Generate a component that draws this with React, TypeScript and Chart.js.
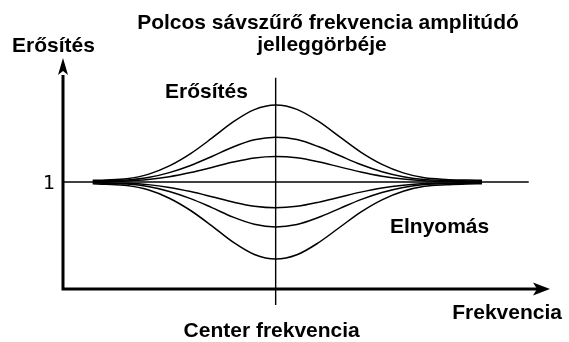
import { useEffect, useRef } from "react";
import { Chart, registerables } from "chart.js";

Chart.register(...registerables);

// Frequency axis (arbitrary units), center frequency of the band filter at 10
const freq = [1.4, 2, 3, 4, 5, 6, 7, 8, 9, 10, 11, 12, 13, 14, 15, 16, 17, 18, 19, 19.7];

// Gain curves (1 = unity gain)
const boostHigh = [1.016, 1.02, 1.032, 1.072, 1.151, 1.266, 1.41, 1.562, 1.677, 1.72, 1.68, 1.569, 1.425, 1.281, 1.166, 1.086, 1.04, 1.025, 1.019, 1.016];
const boostMid = [1.009, 1.012, 1.019, 1.042, 1.088, 1.155, 1.239, 1.328, 1.395, 1.42, 1.397, 1.332, 1.248, 1.164, 1.097, 1.05, 1.023, 1.015, 1.011, 1.009];
const boostLow = [1.005, 1.007, 1.011, 1.024, 1.05, 1.089, 1.137, 1.187, 1.226, 1.24, 1.227, 1.19, 1.142, 1.094, 1.055, 1.029, 1.013, 1.008, 1.006, 1.005];
const cutLow = [0.995, 0.993, 0.989, 0.976, 0.95, 0.911, 0.863, 0.813, 0.774, 0.76, 0.773, 0.81, 0.858, 0.906, 0.945, 0.971, 0.987, 0.992, 0.994, 0.995];
const cutMid = [0.991, 0.988, 0.981, 0.958, 0.912, 0.845, 0.761, 0.672, 0.605, 0.58, 0.603, 0.668, 0.752, 0.836, 0.903, 0.95, 0.977, 0.985, 0.989, 0.991];
const cutHigh = [0.984, 0.98, 0.968, 0.928, 0.849, 0.734, 0.59, 0.438, 0.323, 0.28, 0.32, 0.431, 0.575, 0.719, 0.834, 0.914, 0.96, 0.975, 0.981, 0.984];

const curves = [boostHigh, boostMid, boostLow, cutLow, cutMid, cutHigh];

const centerFreq = 10;
const unityGain = 1;
const xMax = 22.9;
const yMax = 2.16;

const titleLines = ["Polcos sávszűrő frekvencia amplitúdó", "jelleggörbéje"];
const yAxisLabel = "Erősítés";
const xAxisLabel = "Frekvencia";
const centerLabel = "Center frekvencia";
const boostLabel = "Erősítés";
const cutLabel = "Elnyomás";
const unityLabel = "1";

const BOLD = "bold 21px 'Liberation Sans', Arial, sans-serif";

const decorations = {
  id: "decorations",
  afterDatasetsDraw(chart: any) {
    const { ctx } = chart;
    const x = chart.scales.x;
    const y = chart.scales.y;
    ctx.save();
    ctx.fillStyle = "#000";

    // arrowhead on the gain axis
    const ax = x.getPixelForValue(0);
    const ay = y.getPixelForValue(yMax);
    ctx.beginPath();
    ctx.moveTo(ax, ay);
    ctx.lineTo(ax + 5, ay + 17);
    ctx.lineTo(ax, ay + 13);
    ctx.lineTo(ax - 5, ay + 17);
    ctx.closePath();
    ctx.fill();

    // arrowhead on the frequency axis
    const bx = x.getPixelForValue(xMax);
    const by = y.getPixelForValue(0);
    ctx.beginPath();
    ctx.moveTo(bx, by);
    ctx.lineTo(bx - 17, by - 6.5);
    ctx.lineTo(bx - 13, by);
    ctx.lineTo(bx - 17, by + 6.5);
    ctx.closePath();
    ctx.fill();

    // texts
    ctx.font = BOLD;
    ctx.textBaseline = "alphabetic";
    ctx.textAlign = "center";
    ctx.fillText(titleLines[0], 328, 29);
    ctx.fillText(titleLines[1], 322, 51);

    ctx.textAlign = "left";
    ctx.fillText(yAxisLabel, 12, 52);
    ctx.fillText(boostLabel, 165, 98);
    ctx.fillText(cutLabel, 390, 233);

    ctx.textAlign = "right";
    ctx.fillText(xAxisLabel, 562, 319);

    ctx.textAlign = "center";
    ctx.fillText(centerLabel, x.getPixelForValue(centerFreq) - 4, 337);

    ctx.font = "19px 'DejaVu Sans', sans-serif";
    ctx.textAlign = "right";
    ctx.fillText(unityLabel, 55, y.getPixelForValue(unityGain) + 7);
    ctx.restore();
  },
};

export default function App() {
  const canvasRef = useRef<HTMLCanvasElement | null>(null);

  useEffect(() => {
    const canvas = canvasRef.current;
    if (!canvas) return;

    const curveSets = curves.map((vals) => ({
      data: freq.map((f, i) => ({ x: f, y: vals[i] })),
      borderColor: "#000",
      borderWidth: 1.5,
      pointRadius: 0,
      cubicInterpolationMode: "monotone" as const,
      fill: false,
      clip: false as any,
    }));

    const chart = new Chart(canvas, {
      type: "line",
      data: {
        datasets: [
          // axes
          {
            data: [
              { x: 0, y: 2.0 },
              { x: 0, y: 0 },
              { x: 22.3, y: 0 },
            ],
            borderColor: "#000",
            borderWidth: 3,
            borderJoinStyle: "miter",
            borderCapStyle: "butt",
            pointRadius: 0,
            tension: 0,
            clip: false as any,
          },
          // unity gain line
          {
            data: [
              { x: 0, y: unityGain },
              { x: 21.9, y: unityGain },
            ],
            borderColor: "#000",
            borderWidth: 1.4,
            pointRadius: 0,
            tension: 0,
            clip: false as any,
          },
          // center frequency marker
          {
            data: [
              { x: centerFreq, y: 1.975 },
              { x: centerFreq, y: -0.15 },
            ],
            borderColor: "#000",
            borderWidth: 1.4,
            pointRadius: 0,
            tension: 0,
            clip: false as any,
          },
          ...curveSets,
        ] as any,
      },
      options: {
        responsive: false,
        animation: false,
        parsing: true,
        layout: { padding: { left: 63, right: 19, top: 58, bottom: 53 } },
        plugins: {
          legend: { display: false },
          title: { display: false },
          tooltip: { enabled: false },
        },
        scales: {
          x: { type: "linear", min: 0, max: xMax, display: false },
          y: { type: "linear", min: 0, max: yMax, display: false },
        },
      },
      plugins: [decorations],
    });

    return () => chart.destroy();
  }, []);

  return (
    <div style={{ position: "absolute", left: 0, top: 0, width: 569, height: 342, background: "#fff" }}>
      <canvas ref={canvasRef} width={569} height={342} style={{ display: "block" }} />
    </div>
  );
}
